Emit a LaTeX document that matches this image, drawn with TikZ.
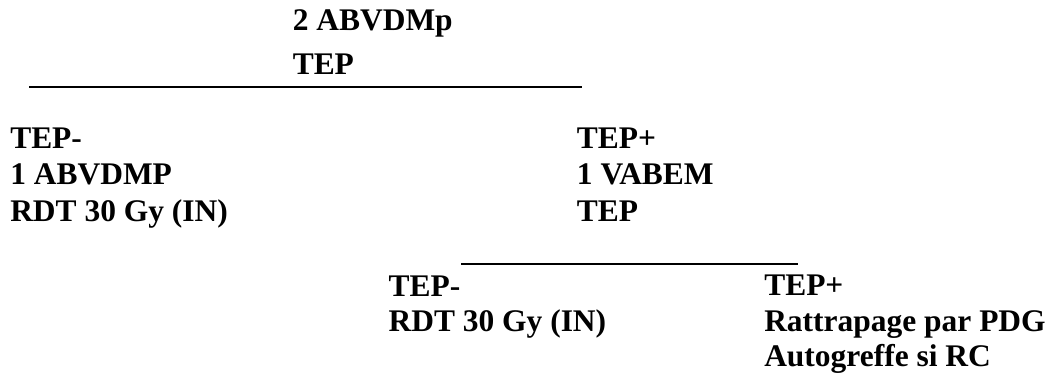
\documentclass[tikz,border=0pt]{standalone}
\usepackage{fontspec}
\setmainfont{Liberation Serif}
\begin{document}
\begin{tikzpicture}[x=0.75pt,y=-0.75pt,
  lbl/.style={anchor=base west,inner sep=0pt,font=\bfseries\fontsize{23.6}{27}\selectfont},
  rule/.style={line width=1.5pt}]
\useasboundingbox[fill=white] (0,0) rectangle (1053,374);
% top block
\node[lbl] (t1) at (292.5,30.5) {2 ABVDMp};
\node[lbl] (t2) at (292.5,75) {TEP};
\coordinate (l1a) at (29.3,86.7);
\coordinate (l1b) at (582,86.7);
\draw[rule] (l1a) -- (l1b);
% left column
\node[lbl] (a1) at (10,149) {TEP-};
\node[lbl] (a2) at (10,185) {1 ABVDMP};
\node[lbl] (a3) at (10,221) {RDT 30 Gy (IN)};
% right column
\node[lbl] (b1) at (576.7,149) {TEP+};
\node[lbl] (b2) at (576.7,185) {1 VABEM};
\node[lbl] (b3) at (576.7,221) {TEP};
\coordinate (l2a) at (461,264);
\coordinate (l2b) at (798,264);
\draw[rule] (l2a) -- (l2b);
% bottom left
\node[lbl] (c1) at (388.3,296) {TEP-};
\node[lbl] (c2) at (388.3,331) {RDT 30 Gy (IN)};
% bottom right
\node[lbl] (d1) at (764,295.5) {TEP+};
\node[lbl] (d2) at (764,331) {Rattrapage par PDG};
\node[lbl] (d3) at (764,366) {Autogreffe si RC};
\end{tikzpicture}
\end{document}
